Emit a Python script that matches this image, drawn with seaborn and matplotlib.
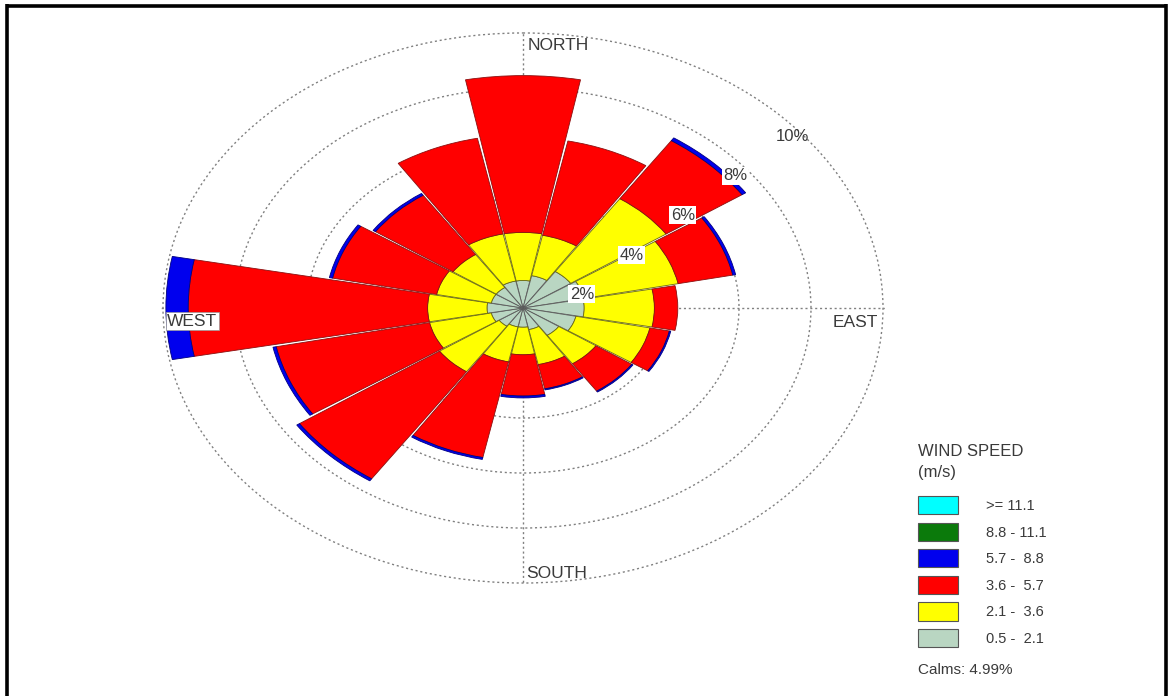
import matplotlib as mpl
import matplotlib.pyplot as plt
import numpy as np
import seaborn as sns
from matplotlib.lines import Line2D
from matplotlib.patches import Patch

mpl.use('Agg')

# wind directions (compass bearings, clockwise from north)
directions = ['N', 'NNE', 'NE', 'ENE', 'E', 'ESE', 'SE', 'SSE',
              'S', 'SSW', 'SW', 'WSW', 'W', 'WNW', 'NW', 'NNW']
bearings = [0, 22.5, 45, 67.5, 90, 112.5, 135, 157.5,
            180, 202.5, 225, 247.5, 270, 292.5, 315, 337.5]

# frequency (%) per speed class and direction
speed_05_21 = [1.0, 1.2, 1.6, 1.75, 1.7, 1.5, 1.2, 0.8, 0.7, 0.7, 0.8, 0.9, 1.0, 0.9, 0.9, 1.0]
speed_21_36 = [1.75, 1.5, 3.2, 2.65, 1.95, 2.1, 1.25, 1.3, 1.0, 1.3, 2.0, 1.75, 1.65, 1.55, 1.45, 1.75]
speed_36_57 = [5.7, 3.5, 2.55, 1.55, 0.65, 0.55, 1.2, 0.9, 1.5, 3.55, 4.7, 4.35, 6.65, 2.95, 2.6, 3.55]
speed_57_88 = [0.0, 0.0, 0.12, 0.08, 0.0, 0.04, 0.04, 0.04, 0.07, 0.07, 0.09, 0.09, 0.62, 0.09, 0.08, 0.0]
speed_88_111 = [0.0] * 16
speed_111_up = [0.0] * 16

speed_labels = ['0.5 -  2.1', '2.1 -  3.6', '3.6 -  5.7', '5.7 -  8.8', '8.8 - 11.1', '>= 11.1']
speed_colors = ['#b9d6c2', '#ffff00', '#ff0000', '#0000ee', '#0b7a0b', '#00ffff']
edge_colors = ['#5a5a5a', '#6a6a10', '#8a1010', '#000080', '#004000', '#008080']

ring_values = [2, 4, 6, 8, 10]
calms = 4.99

# general plot settings
sns.set_theme(style='white')
plt.rcParams['font.family'] = ['Liberation Sans', 'DejaVu Sans']
text_color = '#3a3a3a'

fig = plt.figure(figsize=(11.69, 6.96), dpi=100)
ax = fig.add_axes([161.2 / 1169, 1 - 584.4 / 696, 723.6 / 1169, 552.8 / 696], projection='polar')
ax.set_aspect('auto')
ax.set_theta_zero_location('N')
ax.set_theta_direction(-1)

# stacked wedges (zero-height segments are skipped)
theta = np.deg2rad(bearings)
width = np.deg2rad(22.5 - 0.7)
bottom = np.zeros(len(directions))
layers = [speed_05_21, speed_21_36, speed_36_57, speed_57_88, speed_88_111, speed_111_up]
for values, color, edge in zip(layers, speed_colors, edge_colors):
    values = np.array(values)
    keep = values > 0
    if keep.any():
        ax.bar(theta[keep], values[keep], width=width, bottom=bottom[keep], color=color,
               edgecolor=edge, linewidth=0.6, align='center', zorder=3)
    bottom = bottom + values

# grid: dotted rings and the compass cross
ax.set_ylim(0, 10.05)
ax.set_rgrids(ring_values, labels=[''] * len(ring_values))
ax.set_thetagrids([0, 90, 180, 270], labels=[''] * 4)
ax.grid(True, color='#808080', linestyle=(0, (1.5, 2)), linewidth=1.0)
ax.spines['polar'].set_visible(False)
ax.set_facecolor('none')

# ring labels
label_spots = [(73, 1.71), (57.6, 3.58), (52.7, 5.58), (50.8, 7.6), (50.3, 9.74)]
for value, (bear, rad) in zip(ring_values, label_spots):
    box = dict(facecolor='white', edgecolor='none', pad=1.0) if value < 10 else None
    ax.text(np.deg2rad(bear), rad, '{}%'.format(value), ha='center', va='center',
            fontsize=12, color=text_color, bbox=box, zorder=5)

# compass labels
ax.text(0.507, 0.975, 'NORTH', transform=ax.transAxes, ha='left', va='center',
        fontsize=12.5, color=text_color, zorder=5)
ax.text(0.991, 0.4745, 'EAST', transform=ax.transAxes, ha='right', va='center',
        fontsize=12.5, color=text_color, zorder=5)
ax.text(0.008, 0.476, 'WEST', transform=ax.transAxes, ha='left', va='center',
        fontsize=12.5, color=text_color, zorder=5,
        bbox=dict(facecolor='white', edgecolor='#999999', linewidth=0.5, pad=1.0))
ax.text(0.504, 0.02, 'SOUTH', transform=ax.transAxes, ha='left', va='center',
        fontsize=12.5, color=text_color, zorder=5)

# legend
fig.text(918 / 1169, 1 - 452 / 696, 'WIND SPEED', ha='left', va='center',
         fontsize=12, color=text_color)
fig.text(918 / 1169, 1 - 473 / 696, '(m/s)', ha='left', va='center',
         fontsize=12, color=text_color)
handles = [Patch(facecolor=c, edgecolor='#555555', linewidth=0.8) for c in speed_colors]
fig.legend(handles[::-1], speed_labels[::-1], loc='upper left',
           bbox_to_anchor=(918 / 1169, 1 - 496 / 696), frameon=False,
           fontsize=10.5, handlelength=2.75, handleheight=1.55, labelspacing=0.57,
           handletextpad=1.9, borderpad=0, borderaxespad=0, labelcolor=text_color)
fig.text(918 / 1169, 1 - 670 / 696, 'Calms: {:.2f}%'.format(calms), ha='left',
         va='center', fontsize=11, color=text_color)

# image frame
frame = dict(color='black', linewidth=2.6, solid_capstyle='butt')
fig.add_artist(Line2D([7 / 1169, 1166 / 1169], [1 - 5.5 / 696, 1 - 5.5 / 696], **frame))
fig.add_artist(Line2D([7 / 1169, 7 / 1169], [0, 1 - 4.2 / 696], **frame))
fig.add_artist(Line2D([1166 / 1169, 1166 / 1169], [0, 1 - 4.2 / 696], **frame))

plt.savefig('out.png', dpi=100)
plt.close()
